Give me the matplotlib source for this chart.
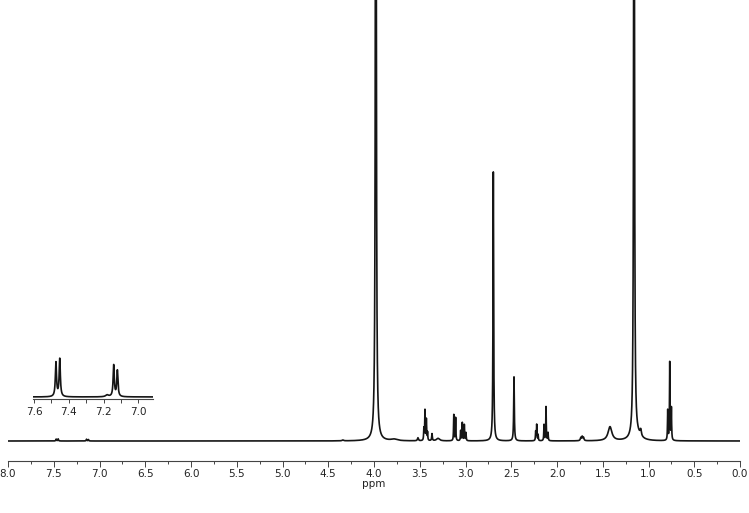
import numpy as np
import matplotlib
matplotlib.use('Agg')
import matplotlib.pyplot as plt
from matplotlib.ticker import MultipleLocator, FormatStrFormatter

# peak list: shift (ppm), height (baseline = 0), half width (ppm)
shifts = [7.474, 7.452, 7.180, 7.142, 7.121,
          4.34, 3.98, 3.78,
          3.52, 3.455, 3.443, 3.428, 3.415, 3.366, 3.30,
          3.128, 3.108, 3.053, 3.035, 3.013, 2.995,
          2.696, 2.47,
          2.233, 2.222, 2.207, 2.142, 2.120, 2.098,
          1.74, 1.725, 1.71, 1.421,
          1.158, 1.12, 1.085,
          0.79, 0.768, 0.75]
heights = [1.9, 2.1, 0.1, 1.75, 1.45,
           0.8, 1200, 1.5,
           3, 12, 30, 21, 8, 7, 2.5,
           26, 23, 10, 18, 16, 8,
           269, 64,
           9, 16, 6, 16, 34, 8,
           3, 4, 3, 14,
           1000, 4, 6,
           30, 78, 32]
widths = [0.004, 0.004, 0.01, 0.004, 0.004,
          0.01, 0.0045, 0.04,
          0.006, 0.003, 0.003, 0.003, 0.003, 0.004, 0.02,
          0.003, 0.003, 0.003, 0.003, 0.003, 0.003,
          0.004, 0.004,
          0.003, 0.003, 0.003, 0.003, 0.003, 0.003,
          0.006, 0.006, 0.006, 0.025,
          0.0045, 0.05, 0.008,
          0.003, 0.003, 0.003]

ppm = np.linspace(8.0, 0.0, 32001)
intensity = np.zeros_like(ppm)
for s, h, w in zip(shifts, heights, widths):
    intensity += h * w**2 / ((ppm - s)**2 + w**2)

line_color = '#151515'
plt.rcParams['font.family'] = ['Liberation Sans Narrow', 'DejaVu Sans']

fig = plt.figure(figsize=(7.49, 5.13), dpi=100)
ax = fig.add_axes([8 / 749, 1 - 461 / 513, 732 / 749, 461 / 513])
ax.plot(ppm, intensity, color=line_color, linewidth=1.2)
ax.set_xlim(8.0, 0.0)
ax.set_ylim(-20, 441)
for side in ['left', 'right', 'top']:
    ax.spines[side].set_visible(False)
ax.spines['bottom'].set_color('#444444')
ax.spines['bottom'].set_linewidth(0.8)
ax.set_yticks([])
ax.xaxis.set_major_locator(MultipleLocator(0.5))
ax.xaxis.set_minor_locator(MultipleLocator(0.25))
ax.xaxis.set_major_formatter(FormatStrFormatter('%.1f'))
ax.tick_params(axis='x', which='major', direction='out', length=4, width=0.7,
               colors='#444444', labelsize=7.5, labelcolor='#222222', pad=2)
ax.tick_params(axis='x', which='minor', direction='out', length=2.5, width=0.7,
               colors='#444444')
ax.set_xlabel('ppm', fontsize=7.5, color='#222222', labelpad=0)

# inset: aromatic region
ins = fig.add_axes([33.3 / 749, 1 - 399 / 513, 119.4 / 749, 44 / 513])
ins.plot(ppm, intensity, color=line_color, linewidth=1.2)
ins.set_xlim(7.604, 6.918)
ins.set_ylim(-0.11, 2.34)
for side in ['left', 'right', 'top']:
    ins.spines[side].set_visible(False)
ins.spines['bottom'].set_color('#444444')
ins.spines['bottom'].set_linewidth(0.8)
ins.set_yticks([])
ins.xaxis.set_major_locator(MultipleLocator(0.2))
ins.xaxis.set_minor_locator(MultipleLocator(0.1))
ins.xaxis.set_major_formatter(FormatStrFormatter('%.1f'))
ins.tick_params(axis='x', which='both', direction='out', length=3, width=0.7,
                colors='#444444', labelsize=7.5, labelcolor='#222222', pad=3)
ins.patch.set_alpha(0)

fig.savefig('out.png', dpi=100)
